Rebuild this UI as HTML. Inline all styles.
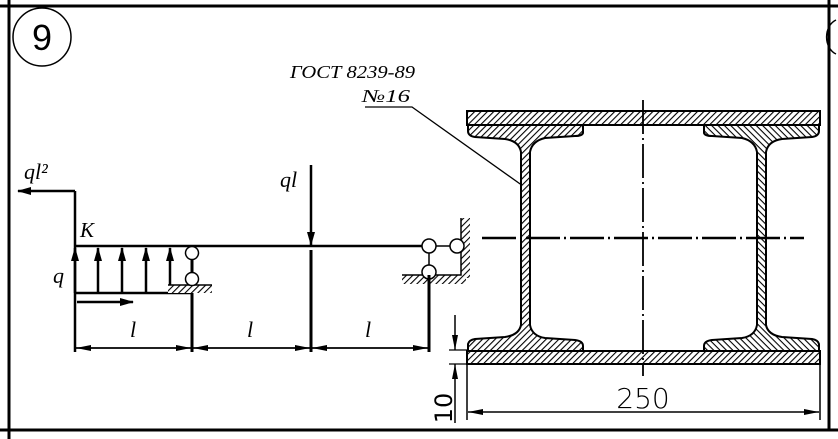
<!DOCTYPE html>
<html><head><meta charset="utf-8"><style>
html,body{margin:0;padding:0;background:#fff;}
svg{display:block;}
.it{font-family:"Liberation Serif",serif;font-style:italic;}
</style></head><body>
<svg width="838" height="439" viewBox="0 0 838 439" xmlns="http://www.w3.org/2000/svg">
<defs>
<pattern id="h" patternUnits="userSpaceOnUse" width="4.5" height="4.5" patternTransform="rotate(45)">
<rect width="4.5" height="4.5" fill="#fff"/><line x1="0" y1="0" x2="0" y2="4.5" stroke="#000" stroke-width="2.2"/>
</pattern>
<marker id="a" markerWidth="14" markerHeight="8" refX="13" refY="4" orient="auto" markerUnits="userSpaceOnUse"><path d="M0,0 L14,4 L0,8 Z" fill="#000"/></marker>
<marker id="as" markerWidth="15" markerHeight="6" refX="15" refY="3" orient="auto-start-reverse" markerUnits="userSpaceOnUse"><path d="M15,3 L0,0 L0,6 Z" fill="#000"/></marker>
</defs>
<!-- frame -->
<line x1="0" y1="6" x2="838" y2="6" stroke="#000" stroke-width="3"/>
<line x1="9" y1="0" x2="9" y2="439" stroke="#000" stroke-width="3"/>
<line x1="829" y1="0" x2="829" y2="430" stroke="#000" stroke-width="3"/>
<line x1="0" y1="430" x2="838" y2="430" stroke="#000" stroke-width="3"/>
<path d="M836,20 A14,18 0 0 0 836,54" fill="none" stroke="#000" stroke-width="1.5"/>
<circle cx="42" cy="37" r="29" fill="none" stroke="#000" stroke-width="1.5"/>
<text x="42" y="50" font-family="Liberation Sans,sans-serif" font-size="36" text-anchor="middle">9</text>
<!-- GOST label -->
<text x="290" y="78" class="it" font-size="18" textLength="125" lengthAdjust="spacingAndGlyphs">ГОСТ 8239-89</text>
<text x="362" y="102" class="it" font-size="18" textLength="48" lengthAdjust="spacingAndGlyphs">№16</text>
<polyline points="365,107 412,107 523,186" fill="none" stroke="#000" stroke-width="1.3"/>
<!-- beam diagram -->
<g stroke="#000" fill="none">
<line x1="75" y1="246" x2="430" y2="246" stroke-width="2.5"/>
<line x1="75" y1="191" x2="75" y2="352" stroke-width="2.5"/>
<line x1="75" y1="191" x2="18" y2="191" stroke-width="2.5" marker-end="url(#a)"/>
<line x1="75" y1="293" x2="192" y2="293" stroke-width="2.5"/>
<line x1="98" y1="293" x2="98" y2="248" stroke-width="2.5" marker-end="url(#a)"/>
<line x1="122" y1="293" x2="122" y2="248" stroke-width="2.5" marker-end="url(#a)"/>
<line x1="146" y1="293" x2="146" y2="248" stroke-width="2.5" marker-end="url(#a)"/>
<line x1="170" y1="293" x2="170" y2="248" stroke-width="2.5" marker-end="url(#a)"/>
<line x1="75" y1="293" x2="75" y2="248" stroke-width="2.5" marker-end="url(#a)"/>
<line x1="77" y1="302" x2="133" y2="302" stroke-width="2.5" marker-end="url(#a)"/>
<line x1="192" y1="246" x2="192" y2="352" stroke-width="3"/>
<line x1="311" y1="165" x2="311" y2="245" stroke-width="2.5" marker-end="url(#a)"/>
<line x1="311" y1="250" x2="311" y2="352" stroke-width="3"/>
</g>
<rect x="168" y="285" width="44" height="8" fill="url(#h)"/>
<line x1="168" y1="285" x2="212" y2="285" stroke="#000" stroke-width="1.5"/>
<circle cx="192" cy="253" r="6.5" fill="#fff" stroke="#000" stroke-width="1.5"/>
<circle cx="192" cy="279" r="6.5" fill="#fff" stroke="#000" stroke-width="1.5"/>
<!-- right support -->
<rect x="402" y="275" width="64" height="9" fill="url(#h)"/>
<rect x="461" y="218" width="9" height="60" fill="url(#h)"/>
<polyline points="402,275 461,275 461,218" fill="none" stroke="#000" stroke-width="1.5"/>
<line x1="429" y1="246" x2="457" y2="246" stroke="#000" stroke-width="1.5"/>
<line x1="429" y1="246" x2="429" y2="272" stroke="#000" stroke-width="1.5"/>
<circle cx="429" cy="246" r="7" fill="#fff" stroke="#000" stroke-width="1.5"/>
<circle cx="457" cy="246" r="7" fill="#fff" stroke="#000" stroke-width="1.5"/>
<circle cx="429" cy="272" r="7" fill="#fff" stroke="#000" stroke-width="1.5"/>
<line x1="429" y1="275" x2="429" y2="352" stroke="#000" stroke-width="3"/>
<!-- dims left -->
<g stroke="#000" stroke-width="1.8">
<line x1="76" y1="348" x2="191" y2="348" marker-start="url(#as)" marker-end="url(#as)"/>
<line x1="193" y1="348" x2="310" y2="348" marker-start="url(#as)" marker-end="url(#as)"/>
<line x1="312" y1="348" x2="428" y2="348" marker-start="url(#as)" marker-end="url(#as)"/>
</g>
<text x="24" y="179" class="it" font-size="22">ql²</text>
<text x="80" y="237" class="it" font-size="21">K</text>
<text x="53" y="283" class="it" font-size="22">q</text>
<text x="280" y="187" class="it" font-size="22">ql</text>
<text x="133" y="337" class="it" font-size="22" text-anchor="middle">l</text>
<text x="250" y="337" class="it" font-size="22" text-anchor="middle">l</text>
<text x="368" y="337" class="it" font-size="22" text-anchor="middle">l</text>
<!-- section -->
<rect x="467" y="111" width="353" height="14" fill="url(#h)" stroke="#000" stroke-width="2"/>
<rect x="467" y="351" width="353" height="13" fill="url(#h)" stroke="#000" stroke-width="2"/>
<path id="ib" d="M468,125 L583,125 L583,133 Q582,136 575,136 L545,138 Q532,141 530,152 L530,325 Q532,336 545,338 L575,340 Q583,341 583,346 L583,351 L468,351 L468,344 Q469,340 475,339 L505,337 Q519,335 521,325 L521,152 Q519,141 505,139 L475,137 Q468,136 468,131 Z" fill="url(#h)" stroke="#000" stroke-width="2"/>
<use href="#ib" transform="translate(1287,0) scale(-1,1)"/>
<line x1="643" y1="100" x2="643" y2="376" stroke="#000" stroke-width="1.8" stroke-dasharray="34,4,2,4"/>
<line x1="482" y1="238" x2="804" y2="238" stroke="#000" stroke-width="2.5" stroke-dasharray="34,4,2,4"/>
<!-- 250 dim -->
<line x1="467" y1="364" x2="467" y2="420" stroke="#000" stroke-width="1.5"/>
<line x1="820" y1="364" x2="820" y2="420" stroke="#000" stroke-width="1.5"/>
<line x1="468" y1="412" x2="819" y2="412" stroke="#000" stroke-width="1.5" marker-start="url(#as)" marker-end="url(#as)"/>
<text x="643" y="408" font-family="DejaVu Sans,sans-serif" font-size="28" text-anchor="middle" font-weight="300">250</text>
<!-- 10 dim -->
<line x1="449" y1="350" x2="468" y2="350" stroke="#000" stroke-width="1.2"/>
<line x1="449" y1="364" x2="468" y2="364" stroke="#000" stroke-width="1.2"/>
<line x1="455" y1="315" x2="455" y2="350" stroke="#000" stroke-width="1.5" marker-end="url(#as)"/>
<line x1="455" y1="423" x2="455" y2="364" stroke="#000" stroke-width="1.5" marker-end="url(#as)"/>
<text transform="translate(452,408) rotate(-90)" font-family="DejaVu Sans,sans-serif" font-size="24" text-anchor="middle">10</text>
</svg>
</body></html>
